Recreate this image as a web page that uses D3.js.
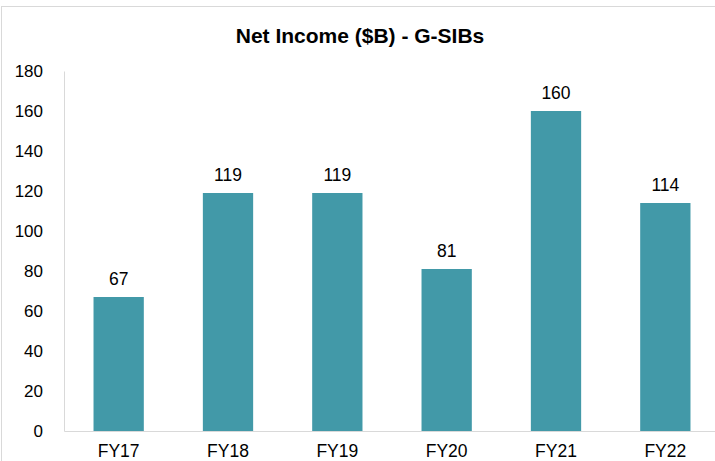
<!DOCTYPE html>
<html>
<head>
<meta charset="utf-8">
<script src="https://cdn.jsdelivr.net/npm/d3@7"></script>
<style>
  body { margin: 0; background: #fff; }
  svg { display: block; font-family: "Liberation Sans", Arial, sans-serif; }
</style>
</head>
<body>
<div id="vis"></div>
<script>
const years = ["FY17", "FY18", "FY19", "FY20", "FY21", "FY22"];
const netIncome = [67, 119, 119, 81, 160, 114];
const yTicks = [0, 20, 40, 60, 80, 100, 120, 140, 160, 180];

const FRAME_WIDTH = 715;
const FRAME_HEIGHT = 461;
const MARGINS = { left: 64, right: -5, top: 71, bottom: 30 };
const VIS_WIDTH = FRAME_WIDTH - MARGINS.left - MARGINS.right;
const VIS_HEIGHT = FRAME_HEIGHT - MARGINS.top - MARGINS.bottom;

const FRAME = d3.select("#vis")
  .append("svg")
  .attr("width", FRAME_WIDTH)
  .attr("height", FRAME_HEIGHT);

// outer chart border
FRAME.append("rect")
  .attr("x", 1.5).attr("y", 6.5)
  .attr("width", FRAME_WIDTH + 10).attr("height", FRAME_HEIGHT + 10)
  .attr("fill", "none")
  .attr("stroke", "#d9d9d9");

FRAME.append("text")
  .attr("x", 360).attr("y", 43)
  .attr("text-anchor", "middle")
  .attr("font-size", 21).attr("font-weight", "bold")
  .attr("fill", "#000")
  .text("Net Income ($B) - G-SIBs");

const X_SCALE = d3.scaleBand()
  .domain(years)
  .range([0, VIS_WIDTH])
  .paddingInner(0.54)
  .paddingOuter(0.27);

const Y_SCALE = d3.scaleLinear()
  .domain([0, 180])
  .range([VIS_HEIGHT, 0]);

const g = FRAME.append("g")
  .attr("transform", `translate(${MARGINS.left},${MARGINS.top})`);

g.selectAll(".bar")
  .data(netIncome)
  .enter()
  .append("rect")
  .attr("x", (d, i) => X_SCALE(years[i]))
  .attr("y", d => Y_SCALE(d))
  .attr("width", X_SCALE.bandwidth())
  .attr("height", d => VIS_HEIGHT - Y_SCALE(d))
  .attr("fill", "#4299a8");

g.selectAll(".val")
  .data(netIncome)
  .enter()
  .append("text")
  .attr("x", (d, i) => X_SCALE(years[i]) + X_SCALE.bandwidth() / 2)
  .attr("y", d => Y_SCALE(d) - 12)
  .attr("text-anchor", "middle")
  .attr("font-size", 17.5)
  .attr("fill", "#000")
  .text(d => d);

// y axis
const yAxis = g.append("g")
  .call(d3.axisLeft(Y_SCALE).tickValues(yTicks).tickSize(0).tickPadding(21));
yAxis.select(".domain").attr("stroke", "#d9d9d9");
yAxis.selectAll("text").attr("font-size", 17).attr("fill", "#000")
  .attr("font-family", "Liberation Sans, Arial, sans-serif");

// x axis
const xAxis = g.append("g")
  .attr("transform", `translate(0,${VIS_HEIGHT})`)
  .call(d3.axisBottom(X_SCALE).tickSize(0).tickPadding(14));
xAxis.select(".domain").attr("stroke", "#d9d9d9");
xAxis.selectAll("text").attr("font-size", 17.5).attr("fill", "#000")
  .attr("font-family", "Liberation Sans, Arial, sans-serif");
</script>
</body>
</html>
